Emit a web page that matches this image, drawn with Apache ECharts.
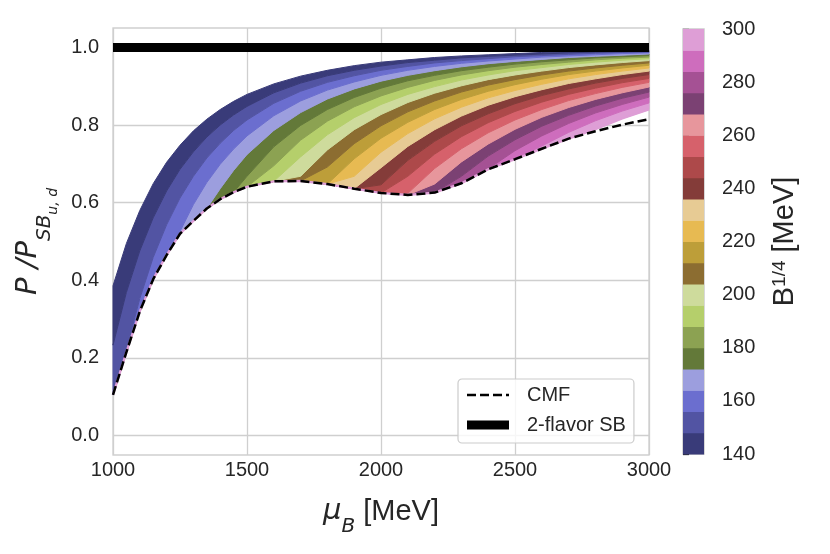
<!DOCTYPE html>
<html>
<head>
<meta charset="utf-8">
<script src="https://cdn.jsdelivr.net/npm/echarts@6/dist/echarts.min.js"></script>
<style>html,body{margin:0;padding:0;background:#fff;}#c{width:830px;height:554px;}</style>
</head>
<body>
<div id="c"></div>
<script>
// chemical potential samples (MeV)
const mu = [1000,1050,1100,1150,1200,1250,1300,1350,1400,1450,1500,1600,1700,1800,1900,2000,2100,2200,2300,2400,2500,2600,2700,2800,2900,3000];
// CMF curve
const cmf = [0.105,0.215,0.320,0.403,0.465,0.520,0.553,0.585,0.609,0.627,0.641,0.655,0.656,0.648,0.636,0.625,0.620,0.626,0.650,0.686,0.712,0.739,0.765,0.784,0.801,0.815];
// B^{1/4} values (MeV) bounding the colour bins
const bValues = [140,148,156,164,172,180,188,196,204,212,220,228,236,244,252,260,268,276,284,292,300];
const binColors = ['#393b79','#5254a3','#6b6ecf','#9c9ede','#637939','#8ca252','#b5cf6b','#cedb9c','#8c6d31','#bd9e39','#e7ba52','#e7cb94','#843c39','#ad494a','#d6616b','#e7969c','#7b4173','#a55194','#ce6dbd','#de9ed6'];
// P/P_SB curves for each B (null = below CMF)
const b140 = [0.386,0.495,0.580,0.649,0.704,0.748,0.785,0.815,0.840,0.861,0.879,0.906,0.926,0.941,0.953,0.962,0.968,0.974,0.978,0.981,0.984,0.987,0.988,0.990,0.991,0.992];
const b148 = [0.233,0.369,0.476,0.561,0.630,0.686,0.731,0.769,0.800,0.826,0.848,0.883,0.908,0.927,0.941,0.952,0.961,0.967,0.973,0.977,0.980,0.983,0.986,0.988,0.989,0.991];
const b156 = [0.053,0.221,0.353,0.459,0.543,0.612,0.668,0.715,0.753,0.786,0.813,0.856,0.887,0.910,0.927,0.941,0.951,0.960,0.966,0.971,0.976,0.979,0.982,0.985,0.987,0.988];
const b164 = [null,0.048,0.210,0.339,0.442,0.526,0.595,0.652,0.699,0.738,0.772,0.824,0.862,0.890,0.911,0.928,0.941,0.951,0.959,0.965,0.970,0.975,0.978,0.981,0.984,0.986];
const b172 = [null,null,null,null,0.325,0.427,0.510,0.579,0.636,0.683,0.724,0.786,0.832,0.867,0.893,0.913,0.928,0.940,0.950,0.958,0.964,0.969,0.974,0.977,0.980,0.983];
const b180 = [null,null,null,null,null,null,0.412,0.495,0.563,0.620,0.668,0.744,0.799,0.840,0.871,0.895,0.914,0.928,0.940,0.949,0.957,0.963,0.968,0.973,0.976,0.979];
const b188 = [null,null,null,null,null,null,null,null,0.480,0.548,0.605,0.695,0.761,0.810,0.847,0.875,0.897,0.915,0.929,0.940,0.949,0.956,0.962,0.968,0.972,0.975];
const b196 = [null,null,null,null,null,null,null,null,null,0.466,0.534,0.640,0.718,0.775,0.819,0.853,0.879,0.899,0.916,0.929,0.940,0.948,0.956,0.962,0.967,0.971];
const b204 = [null,null,null,null,null,null,null,null,null,null,0.453,0.577,0.668,0.736,0.788,0.827,0.858,0.882,0.901,0.917,0.929,0.939,0.948,0.955,0.961,0.966];
const b212 = [null,null,null,null,null,null,null,null,null,null,null,0.507,0.613,0.692,0.752,0.798,0.834,0.862,0.885,0.903,0.917,0.929,0.939,0.947,0.954,0.960];
const b220 = [null,null,null,null,null,null,null,null,null,null,null,0.429,0.552,0.643,0.713,0.766,0.807,0.840,0.866,0.887,0.904,0.918,0.930,0.939,0.947,0.954];
const b228 = [null,null,null,null,null,null,null,null,null,null,null,null,0.483,0.588,0.668,0.730,0.778,0.816,0.846,0.870,0.889,0.905,0.919,0.930,0.939,0.947];
const b236 = [null,null,null,null,null,null,null,null,null,null,null,null,0.406,0.528,0.619,0.690,0.745,0.788,0.823,0.851,0.873,0.891,0.907,0.919,0.930,0.939];
const b244 = [null,null,null,null,null,null,null,null,null,null,null,null,null,0.460,0.565,0.646,0.709,0.758,0.798,0.829,0.855,0.876,0.893,0.908,0.920,0.930];
const b252 = [null,null,null,null,null,null,null,null,null,null,null,null,null,0.386,0.505,0.597,0.668,0.725,0.770,0.806,0.835,0.859,0.879,0.895,0.909,0.920];
const b260 = [null,null,null,null,null,null,null,null,null,null,null,null,null,null,0.439,0.543,0.624,0.688,0.739,0.780,0.813,0.840,0.863,0.881,0.897,0.910];
const b268 = [null,null,null,null,null,null,null,null,null,null,null,null,null,null,null,0.485,0.576,0.648,0.705,0.751,0.789,0.820,0.845,0.866,0.883,0.898];
const b276 = [null,null,null,null,null,null,null,null,null,null,null,null,null,null,null,0.420,0.523,0.604,0.668,0.720,0.762,0.797,0.825,0.849,0.869,0.885];
const b284 = [null,null,null,null,null,null,null,null,null,null,null,null,null,null,null,null,0.465,0.556,0.628,0.687,0.734,0.772,0.804,0.831,0.853,0.872];
const b292 = [null,null,null,null,null,null,null,null,null,null,null,null,null,null,null,null,null,0.504,0.585,0.650,0.702,0.746,0.781,0.811,0.836,0.857];
const b300 = [null,null,null,null,null,null,null,null,null,null,null,null,null,null,null,null,null,null,0.537,0.610,0.668,0.717,0.756,0.789,0.817,0.840];
const sbLevel = 1.0;
const xTicks = [1000,1500,2000,2500,3000];
const yTickLabels = ['0.0','0.2','0.4','0.6','0.8','1.0'];

const curves = [b140,b148,b156,b164,b172,b180,b188,b196,b204,b212,b220,b228,b236,b244,b252,b260,b268,b276,b284,b292,b300];
// each curve drawn on top of CMF: envelope = max(curve, CMF)
const env = curves.map(c => c.map((v, k) => v === null ? cmf[k] : Math.max(v, cmf[k])));

const TXT = '#262626';
const GRIDC = '#cfcfcf';
const FONT = 'Liberation Sans';

const series = [];
// filled bands between successive B curves (drawn from B=300 side up to B=140)
const bandItems = [];
for (let i = 19; i >= 0; i--) bandItems.push([2000, 0.5, i]);
series.push({
  name: 'bands', type: 'custom', xAxisIndex: 0, yAxisIndex: 0, silent: true,
  data: bandItems, encode: { x: 0, y: 1 },
  renderItem: function (params, api) {
    const i = api.value(2);
    const pts = [];
    for (let k = 0; k < mu.length; k++) pts.push(api.coord([mu[k], env[i][k]]));
    for (let k = mu.length - 1; k >= 0; k--) pts.push(api.coord([mu[k], env[i + 1][k]]));
    return { type: 'polygon', shape: { points: pts },
      style: { fill: binColors[i], stroke: binColors[i], lineWidth: 1, lineJoin: 'round' } };
  }
});
series.push({
  name: 'B300line', type: 'line', xAxisIndex: 0, yAxisIndex: 0,
  data: mu.map((m, k) => [m, env[20][k]]),
  symbol: 'none', showSymbol: false, lineStyle: { width: 2.2, color: binColors[19] }, silent: true
});
series.push({
  name: '2-flavor SB', type: 'line', xAxisIndex: 0, yAxisIndex: 0,
  data: [[xTicks[0], sbLevel], [xTicks[xTicks.length - 1], sbLevel]],
  symbol: 'none', showSymbol: false, lineStyle: { width: 9, color: '#000000' }, itemStyle: { color: '#000' }, silent: true
});
series.push({
  name: 'CMF', type: 'line', xAxisIndex: 0, yAxisIndex: 0,
  data: mu.map((m, k) => [m, cmf[k]]),
  symbol: 'none', showSymbol: false, lineStyle: { width: 2.5, color: '#000000', type: [9, 4] }, itemStyle: { color: '#000' }, silent: true
});
// colourbar
const bins = [];
for (let i = 0; i < 20; i++) bins.push([0, bValues[i], bValues[i + 1], i]);
series.push({
  type: 'custom', xAxisIndex: 1, yAxisIndex: 1,
  data: bins, encode: { x: 0, y: [1, 2] }, silent: true,
  renderItem: function (params, api) {
    const p0 = api.coord([0, api.value(1)]);
    const p1 = api.coord([1, api.value(2)]);
    return { type: 'rect', shape: { x: p0[0], y: p1[1], width: p1[0] - p0[0], height: p0[1] - p1[1] + 0.5 },
      style: { fill: binColors[api.value(3)] } };
  }
});

const chart = echarts.init(document.getElementById('c'), null, { renderer: 'canvas' });
chart.setOption({
  animation: false,
  backgroundColor: '#ffffff',
  grid: [
    { left: 113, top: 28, width: 536, height: 427, show: true, borderColor: GRIDC, borderWidth: 1.3, backgroundColor: '#fff' },
    { left: 683, top: 29, width: 21, height: 425, show: true, borderColor: '#cccccc', borderWidth: 1.5 }
  ],
  legend: {
    data: [
      { name: 'CMF', icon: 'path://M0,0h9v2.5H0z M13,0h9v2.5h-9z M26,0h9v2.5h-9z M39,0h3v2.5h-3z' },
      { name: '2-flavor SB', icon: 'path://M0,0h42v9H0z' }
    ],
    orient: 'vertical', left: 458, top: 379,
    itemWidth: 42, itemHeight: 20, itemGap: 10, padding: [6, 8, 8, 9],
    backgroundColor: 'rgba(255,255,255,0.8)', borderColor: '#cccccc', borderWidth: 1.2, borderRadius: 4,
    textStyle: { fontSize: 20, color: TXT, fontFamily: FONT, padding: [0, 0, 0, 13] },
    selectedMode: false
  },
  xAxis: [
    {
      gridIndex: 0, type: 'value', min: xTicks[0], max: xTicks[xTicks.length - 1], interval: 500,
      axisLine: { show: false }, axisTick: { show: false },
      axisLabel: { fontSize: 20, color: TXT, fontFamily: FONT, margin: 5, formatter: function (v) { return String(v); } },
      splitLine: { show: true, lineStyle: { color: GRIDC, width: 1.3 } },
      name: '{m|μ}{b|B}{t| [MeV]}', nameLocation: 'middle', nameGap: 42,
      nameTextStyle: {
        rich: {
          m: { fontSize: 29, fontStyle: 'italic', fontFamily: 'DejaVu Sans', color: TXT, lineHeight: 34, verticalAlign: 'top' },
          b: { fontSize: 20, fontStyle: 'italic', fontFamily: 'DejaVu Sans', color: TXT, lineHeight: 20, padding: [20, 0, 0, 0], verticalAlign: 'top' },
          t: { fontSize: 29, fontFamily: FONT, color: TXT, lineHeight: 34, verticalAlign: 'top' }
        }
      }
    },
    { gridIndex: 1, type: 'value', min: 0, max: 1, show: false }
  ],
  yAxis: [
    {
      gridIndex: 0, type: 'value', min: -0.05, max: 1.05, interval: 0.05,
      axisLine: { show: false }, axisTick: { show: false },
      axisLabel: {
        fontSize: 20, color: TXT, fontFamily: FONT, margin: 14,
        formatter: function (v) {
          const r = v / 0.2; const n = Math.round(r);
          return Math.abs(r - n) < 1e-6 ? (yTickLabels[n] || '') : '';
        }
      },
      splitLine: { show: true, lineStyle: { color: ['rgba(0,0,0,0)', GRIDC, 'rgba(0,0,0,0)', 'rgba(0,0,0,0)'], width: 1.3 } },
      name: '{i|P /P}{s|SB}{ss|u, d}', nameLocation: 'middle', nameGap: 58,
      nameTextStyle: {
        rich: {
          i: { fontSize: 29, fontStyle: 'italic', fontFamily: 'DejaVu Sans', color: TXT, lineHeight: 34, verticalAlign: 'top' },
          s: { fontSize: 20, fontStyle: 'italic', fontFamily: 'DejaVu Sans', color: TXT, lineHeight: 20, padding: [20, 0, 0, 0], verticalAlign: 'top' },
          ss: { fontSize: 14, fontStyle: 'italic', fontFamily: 'DejaVu Sans', color: TXT, lineHeight: 14, padding: [32, 0, 0, 0], verticalAlign: 'top' }
        }
      }
    },
    {
      gridIndex: 1, type: 'value', min: bValues[0], max: bValues[20], interval: 20, position: 'right',
      axisLine: { show: false },
      axisTick: { show: true, length: 6, lineStyle: { color: TXT, width: 1.3 } },
      axisLabel: { fontSize: 20, color: TXT, fontFamily: FONT, margin: 18 },
      splitLine: { show: false },
      name: '{t|B}{s|1/4}{t| [MeV]}', nameLocation: 'middle', nameGap: 66,
      nameTextStyle: {
        rich: {
          t: { fontSize: 29, fontFamily: FONT, color: TXT, lineHeight: 34, verticalAlign: 'top' },
          s: { fontSize: 19, fontFamily: FONT, color: TXT, lineHeight: 21, verticalAlign: 'top' }
        }
      }
    }
  ],
  series: series
});
</script>
</body>
</html>
